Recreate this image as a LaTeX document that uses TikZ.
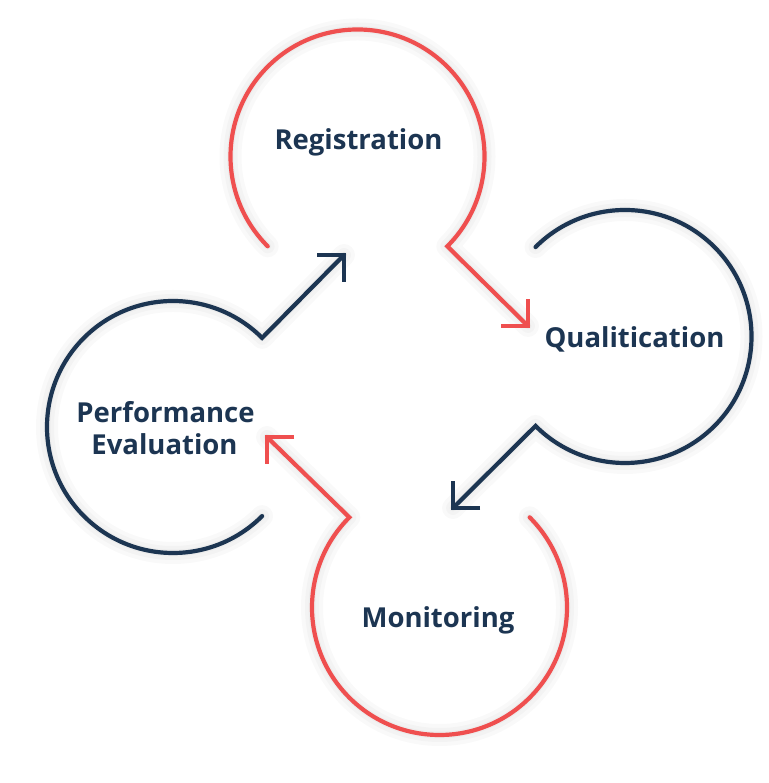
\documentclass[tikz,border=0pt]{standalone}
\usepackage{fontspec}
\setmainfont{Open Sans}
\usetikzlibrary{calc}
\definecolor{rd}{HTML}{EF4F4F}
\definecolor{nv}{HTML}{1C3552}
\begin{document}
\begin{tikzpicture}[x=1pt,y=1pt,
  ring/.style={line width=4.2pt, line cap=round, line join=miter, miter limit=10},
  barb/.style={line width=4.2pt, line cap=butt, line join=miter, miter limit=10},
  lbl/.style={font=\bfseries\fontsize{27.5}{32}\selectfont, text=nv, inner sep=0pt, anchor=base},
  shade/.style={line width=#1, black, opacity=0.022, line cap=round, line join=round},
]
\useasboundingbox (0,0) rectangle (768,783);
\fill[white] (0,0) rectangle (768,783);
% centres and tips
\coordinate (cR) at (357.5,626.5);
\coordinate (cQ) at (625,446.5);
\coordinate (cM) at (439.5,175.5);
\coordinate (cP) at (173,356);
\coordinate (tR) at (528,457);
\coordinate (tQ) at (453,275);
\coordinate (tM) at (267,346);
\coordinate (tP) at (344,528);
% soft shadows
\foreach \w in {22,14,7}{
  \begin{scope}[shift={(-9,-9)}]
    \draw[shade=\w pt] (cR) ++(225:127) arc[start angle=225,end angle=-45,radius=127] -- (tR);
    \draw[shade=\w pt] (cQ) ++(135:126.5) arc[start angle=135,end angle=-135,radius=126.5] -- (tQ);
    \draw[shade=\w pt] (cM) ++(45:127.5) arc[start angle=45,end angle=-225,radius=127.5] -- (tM);
    \draw[shade=\w pt] (cP) ++(-45:126) arc[start angle=-45,end angle=-315,radius=126] -- (tP);
  \end{scope}
}
% rings with connectors
\draw[ring, rd] (cR) ++(225:127) arc[start angle=225,end angle=-45,radius=127] -- (tR);
\draw[barb, rd] ($(tR)+(-27,0)$) -- (tR) -- ++(0,27);
\draw[ring, nv] (cQ) ++(135:126.5) arc[start angle=135,end angle=-135,radius=126.5] -- (tQ);
\draw[barb, nv] ($(tQ)+(27,0)$) -- (tQ) -- ++(0,27);
\draw[ring, rd] (cM) ++(45:127.5) arc[start angle=45,end angle=-225,radius=127.5] -- (tM);
\draw[barb, rd] ($(tM)+(27,0)$) -- (tM) -- ++(0,-27);
\draw[ring, nv] (cP) ++(-45:126) arc[start angle=-45,end angle=-315,radius=126] -- (tP);
\draw[barb, nv] ($(tP)+(-27,0)$) -- (tP) -- ++(0,-27);
% labels
\node[lbl] (lR) at (358.5,633) {Registration};
\node[lbl] (lQ) at (634.5,435) {Qualitication};
\node[lbl] (lM) at (438,155) {Monitoring};
\node[lbl] (lP1) at (165.5,360) {Performance};
\node[lbl] (lP2) at (164.5,328) {Evaluation};
\end{tikzpicture}
\end{document}
